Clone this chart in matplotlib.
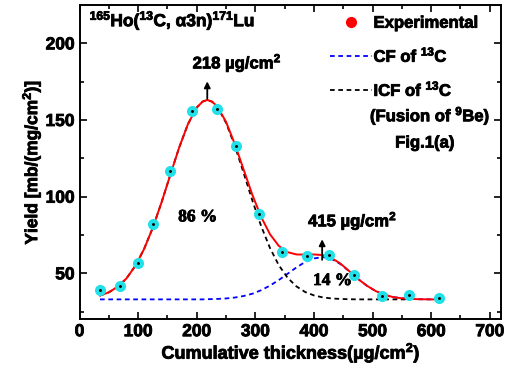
import matplotlib
matplotlib.use("Agg")
import matplotlib.pyplot as plt
import matplotlib.patheffects as pe
from matplotlib.lines import Line2D

# bold Arial-like text everywhere, superscripts too
plt.rcParams['font.family'] = ['Liberation Sans', 'DejaVu Sans']
plt.rcParams['font.weight'] = 'bold'
plt.rcParams['mathtext.fontset'] = 'custom'
plt.rcParams['mathtext.rm'] = 'Liberation Sans:bold'
plt.rcParams['mathtext.bf'] = 'Liberation Sans:bold'
plt.rcParams['mathtext.it'] = 'Liberation Sans:bold'
plt.rcParams['mathtext.default'] = 'bf'

# experimental points
thickness = [35, 69, 100, 125, 154, 192, 234, 267, 306, 346, 388, 425, 469, 516, 563, 613]
yield_exp = [39, 42, 57, 82, 117, 156, 157, 133, 89, 64, 61, 62, 49, 35, 36, 34]

# fitted curves
fit_x = [35, 50, 65, 80, 95, 110, 125, 140, 155, 170, 185, 200, 210, 218, 226, 235,
         250, 265, 280, 295, 310, 325, 340, 355, 370, 385, 400, 415, 430, 445, 460,
         475, 490, 505, 520, 535, 550, 565, 580, 600, 615]
fit_total = [35.5, 37.6, 41.2, 46.6, 54.7, 65.7, 79.7, 96.3, 114.3, 132.0, 147.3, 158.1,
             162.0, 163.1, 162.0, 158.9, 148.8, 134.3, 117.7, 101.1, 86.7, 75.5, 67.9,
             63.8, 62.3, 62.2, 62.3, 61.9, 60.0, 56.4, 51.5, 46.4, 42.0, 38.5, 36.0,
             34.5, 33.7, 33.3, 33.1, 33.0, 33.0]
fit_cf = [33.0, 33.0, 33.0, 33.0, 33.0, 33.0, 33.0, 33.0, 33.0, 33.0, 33.0, 33.0,
          33.0, 33.1, 33.2, 33.3, 33.6, 34.2, 35.2, 36.7, 39.0, 42.0, 45.6, 49.7,
          53.8, 57.4, 59.7, 60.6, 59.4, 56.1, 51.4, 46.4, 42.0, 38.5, 36.0, 34.5,
          33.7, 33.3, 33.1, 33.0, 33.0]
fit_icf = [35.5, 37.6, 41.2, 46.6, 54.7, 65.7, 79.7, 96.3, 114.3, 132.0, 147.3, 158.1,
           162.0, 163.0, 162.0, 158.6, 148.2, 133.1, 115.5, 97.4, 80.7, 66.5, 55.3,
           47.1, 41.5, 37.8, 35.6, 34.3, 33.6, 33.3, 33.1, 33.0, 33.0, 33.0, 33.0,
           33.0, 33.0, 33.0]

x_ticks = [0, 100, 200, 300, 400, 500, 600, 700]
y_ticks = [50, 100, 150, 200]

heavy = [pe.withStroke(linewidth=0.6, foreground='black')]

fig = plt.figure(figsize=(5.08, 3.68), dpi=100)
ax = fig.add_axes([0.1565, 0.1323, 0.8307, 0.8541])

dash = (0, (2.6, 2.0))
ax.plot(fit_x, fit_cf, color='#0000ff', lw=1.3, ls=dash, zorder=2)
ax.plot(fit_x[:len(fit_icf)], fit_icf, color='black', lw=1.3, ls=dash, zorder=2)
ax.plot(fit_x, fit_total, color='red', lw=1.4, zorder=3)
ax.plot(thickness, yield_exp, 'o', color='#22e0e8', ms=8, mec='none', zorder=4)
ax.plot(thickness, yield_exp, 'o', color='black', ms=1.1, zorder=5)

ax.set_xlim(0, 720)
ax.set_ylim(20, 225)
ax.set_xticks(x_ticks)
ax.set_yticks(y_ticks)
ax.set_xticks(range(50, 720, 100), minor=True)
ax.set_yticks(range(25, 225, 50), minor=True)
ax.tick_params(which='both', direction='in', top=True, right=True, width=1.2,
               labelsize=12.5)
ax.tick_params(which='major', length=5)
ax.tick_params(which='minor', length=3)
for lab in ax.get_xticklabels() + ax.get_yticklabels():
    lab.set_fontweight('bold')
    lab.set_path_effects(heavy)
for sp in ax.spines.values():
    sp.set_linewidth(1.4)

xl = ax.set_xlabel('Cumulative thickness(\u00b5g/cm$^{2}$)', fontsize=13,
                   fontweight='bold', labelpad=1)
yl = ax.set_ylabel('Yield [mb/(mg/cm$^{2}$)]', fontsize=12.5, fontweight='bold',
                   labelpad=2)
xl.set_path_effects(heavy)
yl.set_path_effects(heavy)

texts = []
# reaction label
texts.append(ax.text(17, 215, '$^{165}$Ho($^{13}$C, \u03b13n)$^{171}$Lu', fontsize=12.5,
                     fontweight='bold', ha='left', va='center'))

# peak markers
ax.annotate('', xy=(218, 177), xytext=(218, 162),
            arrowprops=dict(arrowstyle='-|>', color='black', lw=1.3, mutation_scale=9))
texts.append(ax.text(193, 180, '218 \u00b5g/cm$^{2}$', fontsize=12, fontweight='bold',
                     ha='left', va='bottom'))
ax.annotate('', xy=(414, 74), xytext=(414, 57),
            arrowprops=dict(arrowstyle='-|>', color='black', lw=1.3, mutation_scale=9))
texts.append(ax.text(390, 77, '415 \u00b5g/cm$^{2}$', fontsize=12, fontweight='bold',
                     ha='left', va='bottom'))

texts.append(ax.text(202, 86.5, '86 %', fontsize=12.5, fontweight='bold',
                     family='Liberation Serif', ha='center', va='center'))
texts.append(ax.text(432, 45, '14 %', fontsize=12.5, fontweight='bold',
                     family='Liberation Serif', ha='center', va='center'))

handles = [
    Line2D([], [], ls='none', marker='o', color='red', ms=7),
    Line2D([], [], color='#0000ff', lw=1.3, ls=dash),
    Line2D([], [], color='black', lw=1.3, ls=dash),
]
labels = ['Experimental', 'CF of $^{13}$C', 'ICF of $^{13}$C']
leg = ax.legend(handles, labels, loc='upper left', bbox_to_anchor=(0.594, 0.966),
                frameon=False, fontsize=12, handlelength=2.5, handletextpad=0.1,
                labelspacing=0.85, borderpad=0, borderaxespad=0)
for t in leg.get_texts():
    t.set_fontweight('bold')
    t.set_path_effects(heavy)

texts.append(ax.text(598, 153, '(Fusion of $^{9}$Be)', fontsize=12, fontweight='bold',
                     ha='center', va='center'))
texts.append(ax.text(589, 135, 'Fig.1(a)', fontsize=12, fontweight='bold',
                     ha='center', va='center'))
for t in texts:
    t.set_path_effects(heavy)

fig.savefig('out.png', dpi=100)
